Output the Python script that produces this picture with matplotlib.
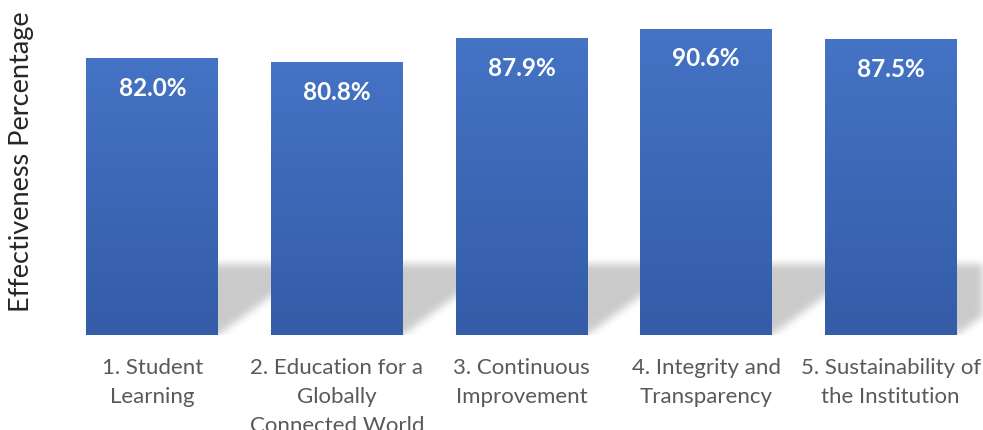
import numpy as np
import matplotlib.pyplot as plt
from matplotlib.patches import Rectangle
from matplotlib.colors import LinearSegmentedColormap

plt.rcParams['font.family'] = ['Lato', 'DejaVu Sans']

# data
categories = ['1. Student\nLearning',
              '2. Education for a\nGlobally\nConnected World',
              '3. Continuous\nImprovement',
              '4. Integrity and\nTransparency',
              '5. Sustainability of\nthe Institution']
values = [82.0, 80.8, 87.9, 90.6, 87.5]
labels = ['82.0%', '80.8%', '87.9%', '90.6%', '87.5%']

fig = plt.figure(figsize=(9.83, 4.31), dpi=100)
ax = fig.add_axes([60 / 983, 95 / 431, 923 / 983, 338 / 431])

x = np.arange(len(values))
width = 0.715
ax.set_xlim(-0.5, len(values) - 0.5)
ax.set_ylim(0, 100)

# soft perspective shadow behind the bars, built as a blurred mask
W, H = 923, 338
px_per_x = W / len(values)
shadow_h = 70      # px
slant = 1.37       # px right per px up
mask = np.zeros((H, W))
rows = np.arange(H)[:, None]        # 0 = bottom
cols = np.arange(W)[None, :]
for xi in x:
    L = (xi - width / 2 + 0.5) * px_per_x
    R = (xi + width / 2 + 0.5) * px_per_x
    inside = (rows <= shadow_h) & (cols >= L + rows * slant) & (cols <= R + rows * slant)
    mask[inside] = 1.0

def blur(a, s):
    k = np.exp(-0.5 * (np.arange(-3 * s, 3 * s + 1) / s) ** 2)
    k /= k.sum()
    a = np.apply_along_axis(lambda r: np.convolve(r, k, mode='same'), 1, a)
    a = np.apply_along_axis(lambda c: np.convolve(c, k, mode='same'), 0, a)
    return a

mask = blur(mask, 4)
rgba = np.zeros((H, W, 4))
rgba[..., 3] = mask * 0.21
ax.imshow(rgba[::-1], extent=(-0.5, len(values) - 0.5, 0, 100),
          aspect='auto', zorder=1, interpolation='bilinear')

# gradient bars
cmap = LinearSegmentedColormap.from_list('bar', ['#345CA7', '#4573C5'])
grad = np.linspace(0, 1, 256)[:, None]
for xi, v in zip(x, values):
    rect = Rectangle((xi - width / 2, 0), width, v, facecolor='none',
                     edgecolor='none', zorder=2)
    ax.add_patch(rect)
    im = ax.imshow(grad, extent=(xi - width / 2, xi + width / 2, 0, v),
                   origin='lower', cmap=cmap, aspect='auto', zorder=2)
    im.set_clip_path(rect)

for xi, v, lab in zip(x, values, labels):
    ax.annotate(lab, (xi, v), xytext=(0, -21), textcoords='offset points',
                ha='center', va='center', color='white', fontsize=17.5,
                fontweight='bold', zorder=3)

ax.set_xticks(x)
ax.set_xticklabels(categories, fontsize=16, color='#595959',
                   linespacing=1.55)
ax.tick_params(axis='x', length=0, pad=16)
ax.set_yticks([])
for s in ax.spines.values():
    s.set_visible(False)

fig.text(22 / 983, 1 - 162 / 431, 'Effectiveness Percentage', fontsize=19.5,
         color='#262626', rotation=90, ha='center', va='center')

fig.savefig('out.png', dpi=100)
